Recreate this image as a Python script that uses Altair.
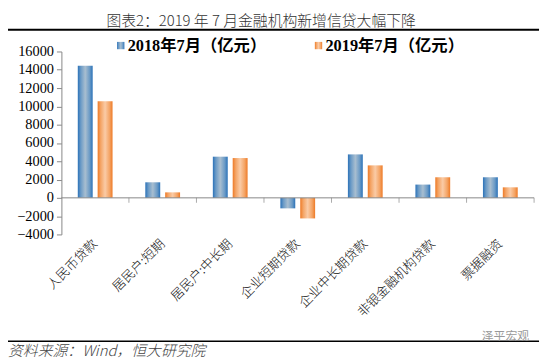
import altair as alt
import pandas as pd

categories = ["人民币贷款", "居民户:短期", "居民户:中长期", "企业短期贷款",
              "企业中长期贷款", "非银金融机构贷款", "票据融资"]
series_names = ["2018年7月（亿元）", "2019年7月（亿元）"]
v2018 = [14450, 1700, 4500, -1150, 4750, 1450, 2250]
v2019 = [10550, 600, 4350, -2250, 3550, 2250, 1150]
y_ticks = list(range(-4000, 16001, 2000))

title_text = "图表2：2019 年 7 月金融机构新增信贷大幅下降"
source_text = "资料来源：Wind，恒大研究院"
watermark_text = "泽平宏观"

rows = []
for c, a, b in zip(categories, v2018, v2019):
    rows.append({"cat": c, "series": series_names[0], "value": a})
    rows.append({"cat": c, "series": series_names[1], "value": b})
df = pd.DataFrame(rows)

def grad(edge, mid, center):
    return {"gradient": "linear", "x1": 0, "x2": 1, "y1": 0, "y2": 0,
            "stops": [{"offset": 0, "color": edge},
                      {"offset": 0.2, "color": mid},
                      {"offset": 0.5, "color": center},
                      {"offset": 0.8, "color": mid},
                      {"offset": 1, "color": edge}]}

grad_blue = grad("#2B72B8", "#6A9AC6", "#A8BED0")
grad_orange = grad("#EE7A26", "#F4A465", "#FACBA6")

serif = "Liberation Serif, Noto Sans CJK SC"
cjk = "Noto Sans CJK SC"

x_axis = alt.Axis(title=None, orient="bottom", domain=False, ticks=False,
                  labelAngle=-45, labelAlign="right", labelBaseline="middle",
                  labelPadding=7, labelFont=cjk, labelFontSize=13,
                  labelFontWeight=300,
                  labelColor="#111", labelLimit=200, labelOverlap=False)
y_axis = alt.Axis(title=None, values=y_ticks, format="d", grid=False,
                  domainColor="#888", tickColor="#888", tickSize=5,
                  labelFont="Liberation Serif", labelFontSize=14.5,
                  labelColor="#000", labelPadding=3, labelOverlap=False,
                  labelBound=False, labelFlush=False)
x_scale = alt.Scale(paddingInner=0, paddingOuter=0)
y_scale = alt.Scale(domain=[-4000, 16000], nice=False)

bars = alt.Chart(df).mark_bar().encode(
    x=alt.X("cat:N", sort=categories, scale=x_scale, axis=x_axis),
    xOffset=alt.XOffset("series:N", sort=series_names,
                        scale=alt.Scale(paddingInner=0.25, paddingOuter=0.825)),
    y=alt.Y("value:Q", scale=y_scale, axis=y_axis),
    fill=alt.condition(alt.datum.series == series_names[0],
                       alt.value(grad_blue), alt.value(grad_orange)),
)

zero = alt.Chart(pd.DataFrame({"z": [0]})).mark_rule(color="#888", strokeWidth=1).encode(
    y=alt.Y("z:Q", scale=y_scale, axis=y_axis))

ticks = alt.Chart(pd.DataFrame({"cat": categories, "z": [0] * len(categories)})).mark_tick(
    orient="vertical", size=5, thickness=1, color="#888", yOffset=2.5).encode(
    x=alt.X("cat:N", sort=categories, bandPosition=1, scale=x_scale, axis=x_axis),
    y=alt.Y("z:Q", scale=y_scale, axis=y_axis))

def txt(text, x, y, **kw):
    return alt.Chart(pd.DataFrame({"t": [text]})).mark_text(**kw).encode(
        x=alt.value(x), y=alt.value(y), text="t:N")

def hline(x1, x2, y, w):
    return alt.Chart(pd.DataFrame({"a": [0]})).mark_rule(color="#000", strokeWidth=w).encode(
        x=alt.value(x1), x2=alt.value(x2), y=alt.value(y))

title = txt(title_text, 202, -31, font=cjk, fontSize=15, color="#333",
            align="center", baseline="middle", fontWeight=300)
top_line = hline(-57, 483, -22, 2.2)

sq1 = alt.Chart(pd.DataFrame({"a": [0]})).mark_square(size=55, opacity=1).encode(
    x=alt.value(60), y=alt.value(-6), fill=alt.value(grad_blue))
sq2 = alt.Chart(pd.DataFrame({"a": [0]})).mark_square(size=55, opacity=1).encode(
    x=alt.value(260), y=alt.value(-6), fill=alt.value(grad_orange))
leg1 = txt(series_names[0], 67, -6, font=serif, fontSize=16.5, fontWeight="bold",
           color="#000", align="left", baseline="middle")
leg2 = txt(series_names[1], 267, -6, font=serif, fontSize=16.5, fontWeight="bold",
           color="#000", align="left", baseline="middle")

bottom_line = hline(-57, 483, 293, 1.5)
source = txt(source_text, -54, 303, font=cjk, fontSize=15, fontStyle="italic",
             color="#444", align="left", baseline="middle", fontWeight=300)
watermark = txt(watermark_text, 425, 288, font=cjk, fontSize=12, color="#999",
                align="left", baseline="middle")

chart = alt.layer(bars, zero, ticks, title, top_line, sq1, sq2, leg1, leg2,
                  bottom_line, source, watermark).properties(
    width=478, height=185,
    background="white",
    autosize=alt.AutoSizeParams(type="none"),
    padding={"left": 54, "top": 42, "right": 8, "bottom": 125},
).configure_view(stroke=None)

chart.save("out.html", embed_options={"renderer": "svg", "actions": False})
